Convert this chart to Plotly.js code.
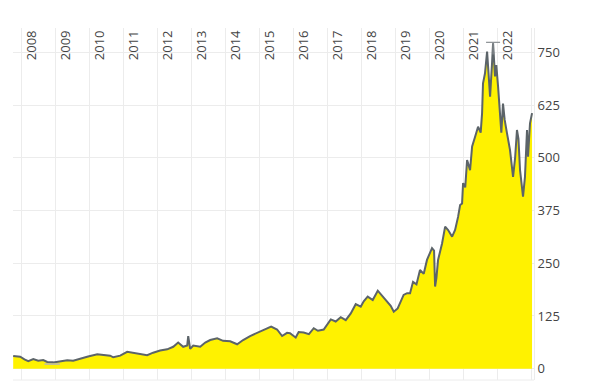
<!DOCTYPE html>
<html>
<head>
<meta charset="utf-8">
<script src="https://cdn.plot.ly/plotly-3.0.1.min.js"></script>
<style>html,body{margin:0;padding:0;background:#fff;}#chart{width:592px;height:381px;}</style>
</head>
<body>
<div id="chart"></div>
<script>
const dates = [
"2007-10-03","2007-11-10","2007-12-17","2008-02-01","2008-03-13","2008-05-06","2008-06-28","2008-08-21","2008-10-03","2008-12-06",
"2009-02-20","2009-05-06","2009-07-09","2009-09-23","2009-12-06","2010-03-24","2010-05-27","2010-08-10",
"2010-09-12","2010-11-26","2011-02-09","2011-04-15","2011-06-28","2011-09-12","2011-11-15","2012-01-29",
"2012-04-14","2012-06-18","2012-08-10","2012-10-03","2012-11-15","2012-11-26","2012-12-17","2013-01-19",
"2013-04-04","2013-05-28","2013-07-20","2013-10-03","2013-12-06","2014-02-20","2014-05-06","2014-07-09",
"2014-09-22","2014-12-06","2015-02-20","2015-05-06","2015-07-09","2015-09-01","2015-10-24","2015-11-25",
"2016-01-03","2016-01-25","2016-02-26","2016-04-20","2016-06-15","2016-08-06","2016-09-20","2016-11-21","2017-02-05","2017-03-30","2017-05-23",
"2017-07-16","2017-09-08","2017-10-31","2017-12-24","2018-01-25","2018-03-09","2018-05-02","2018-06-25","2018-08-17",
"2018-10-10","2018-11-11","2018-12-14","2019-01-25","2019-03-30","2019-05-06","2019-06-07","2019-07-09",
"2019-08-15","2019-09-22","2019-11-01","2019-12-06","2020-01-29","2020-02-20","2020-03-02","2020-03-16","2020-04-03","2020-05-16","2020-06-18","2020-07-20",
"2020-09-01","2020-10-03","2020-11-04","2020-11-26","2020-12-17","2020-12-28","2021-01-20","2021-02-09","2021-03-13",
"2021-04-04","2021-05-06","2021-06-07","2021-07-05","2021-07-20","2021-07-30","2021-08-20","2021-09-12","2021-09-22","2021-10-14",
"2021-11-04","2021-11-15","2021-12-06","2021-12-20","2022-01-08","2022-01-29","2022-02-12","2022-03-02","2022-03-20","2022-04-14","2022-05-16",
"2022-06-18","2022-07-10","2022-07-30","2022-08-15","2022-09-01","2022-09-20","2022-10-03","2022-10-24","2022-11-15","2022-11-26","2022-12-17",
"2023-01-08"
];
const closes = [
30,29,28.5,22,18,23,19,20.6,16,15,
17.5,20,19,24,28.5,34,33,31,
27,31,40,38,34,32,38,43,
46,52,62,52,55,77,47,55,
52,62,68,72,66,65,58,68,
77.5,85,93,100,93,77.5,85,84,
77.5,74,87,86,82,96,90,93,117,112,122,
115,131,153,147,160,171,163,185,171,
155,149,135,143,175,179,179,206,
200,234,225,258,286,280,195,215,258,297,337,329,
313,329,360,388,392,440,430,495,471,
527,550,574,560,606,677,700,752,724,645,
724,772,693,720,669,598,560,629,590,558,519,
455,500,566,545,471,430,408,455,566,503,582,
606
];
// all-time high (with wick) and low markers
const highDate = ["2021-11-15"];
const highValue = [774];
const highWickBase = [745];
const lowDate = ["2008-11-25"];
const lowValue = [11];

// x ticks (year starts); the last gridline carries no label
const xTickVals = ["2008-01-01","2009-01-01","2010-01-01","2011-01-01","2012-01-01","2013-01-01","2014-01-01","2015-01-01",
  "2016-01-01","2017-01-01","2018-01-01","2019-01-01","2020-01-01","2021-01-01","2022-01-01","2023-01-01"];
const xTickText = ["2008","2009","2010","2011","2012","2013","2014","2015","2016","2017","2018","2019","2020","2021","2022",""];
const yTicks = [0,125,250,375,500,625,750];

const traces = [
  {
    x: dates, y: closes, type: "scatter", mode: "lines",
    fill: "tozeroy", fillcolor: "#fff200",
    line: {color: "#5c6469", width: 2},
    hoverinfo: "skip", showlegend: false
  },
  {
    x: highDate, y: highValue, type: "scatter", mode: "markers",
    marker: {symbol: "line-ew-open", size: 10, color: "#8a8f93", line: {color: "#8a8f93", width: 1.2}},
    error_y: {type: "data", symmetric: false, array: [0], arrayminus: [highValue[0]-highWickBase[0]], width: 0, thickness: 1.2, color: "#8a8f93"},
    hoverinfo: "skip", showlegend: false
  },
  {
    x: lowDate, y: lowValue, type: "scatter", mode: "markers",
    marker: {symbol: "line-ew-open", size: 11, color: "#b8b8b8", line: {color: "#b8b8b8", width: 1.5}},
    hoverinfo: "skip", showlegend: false
  }
];

const layout = {
  width: 592, height: 381,
  margin: {l: 13, r: 58, t: 28, b: 1, pad: 0},
  paper_bgcolor: "#fff", plot_bgcolor: "#fff",
  font: {family: "Open Sans, sans-serif", size: 13, color: "#444"},
  showlegend: false,
  hovermode: false,
  xaxis: {
    type: "date",
    range: ["2007-10-01", "2023-01-29"],
    side: "top",
    anchor: "free",
    position: 0.9085,
    tickmode: "array", tickvals: xTickVals, ticktext: xTickText,
    tickangle: -90,
    ticklabelshift: 10,
    showgrid: true, gridcolor: "#ececec", gridwidth: 1,
    zeroline: false, showline: false, ticks: "",
    tickfont: {size: 13, color: "#444"}
  },
  yaxis: {
    side: "right",
    range: [-26.8, 808],
    tickvals: yTicks,
    showgrid: true, gridcolor: "#ececec", gridwidth: 1,
    zeroline: false,
    showline: true, linecolor: "#ececec", linewidth: 1,
    ticks: "",
    tickfont: {size: 13, color: "#444"}
  },
  shapes: [
    {type: "line", xref: "paper", yref: "paper", x0: 0, x1: 1, y0: 0, y1: 0, line: {color: "#ececec", width: 1}}
  ]
};

Plotly.newPlot("chart", traces, layout, {displayModeBar: false, staticPlot: true});
</script>
</body>
</html>
